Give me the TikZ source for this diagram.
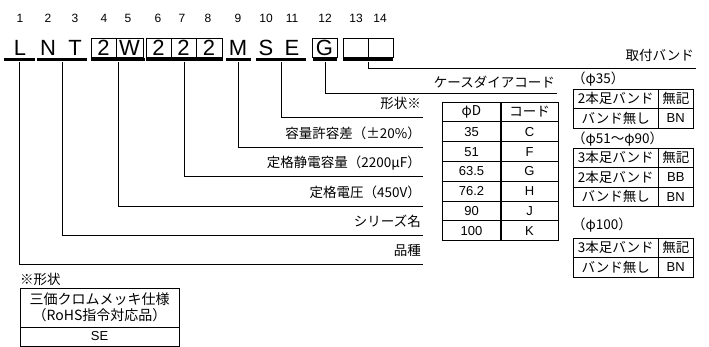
\documentclass[tikz,border=0pt]{standalone}
\usepackage{fontspec}
\setmainfont{Liberation Sans}
\newfontfamily\jpfont{Noto Sans CJK JP}

\begin{document}
\begin{tikzpicture}[
x=1pt, y=-1pt,
code_letter/.style={font=\fontsize{22}{22}\selectfont, inner sep=0pt, text height=16pt, text depth=0pt},
code_box/.style={code_letter, draw=black, line width=0.6pt, minimum width=25pt, minimum height=19pt},
digit/.style={font=\fontsize{12}{12}\selectfont, anchor=base, inner sep=0pt},
bar/.style={rectangle, fill=black, inner sep=0pt, minimum height=3pt},
label_text/.style={font=\jpfont\fontsize{13.5}{13.5}\selectfont, anchor=south east, text depth=0pt, inner xsep=2pt, inner ysep=8.5pt},
leader/.style={line width=0.8pt},
cell/.style={rectangle, draw=black, line width=0.8pt, inner sep=0pt, minimum height=19.8pt, font=\jpfont\fontsize{13.5}{13.5}\selectfont},
latin_cell/.style={cell, font=\fontsize{13}{13}\selectfont},
band_cell/.style={cell, minimum height=19.5pt},
band_head/.style={font=\jpfont\fontsize{13.5}{13.5}\selectfont, anchor=west, inner sep=0pt}
]
\useasboundingbox (0,0) rectangle (709,347);


\node[digit](n1) at (20,23) {1};
\node[digit](n2) at (48,23) {2};
\node[digit](n3) at (75,23) {3};
\node[digit](n4) at (104,23) {4};
\node[digit](n5) at (128,23) {5};
\node[digit](n6) at (158,23) {6};
\node[digit](n7) at (182,23) {7};
\node[digit](n8) at (208,23) {8};
\node[digit](n9) at (238,23) {9};
\node[digit](n10) at (266,23) {10};
\node[digit](n11) at (292,23) {11};
\node[digit](n12) at (325,23) {12};
\node[digit](n13) at (356,23) {13};
\node[digit](n14) at (380,23) {14};

\node[code_letter](c1) at (20,47.5) {L};
\node[code_letter](c2) at (48,47.5) {N};
\node[code_letter](c3) at (75,47.5) {T};
\node[code_box](c4) at (103.5,47.5) {2};
\node[code_box, minimum width=27pt](c5) at (129.5,47.5) {W};
\node[code_box](c6) at (158.5,47.5) {2};
\node[code_box](c7) at (183.5,47.5) {2};
\node[code_box, minimum width=26pt](c8) at (209,47.5) {2};
\node[code_letter](c9) at (238,47.5) {M};
\node[code_letter](c10) at (266,47.5) {S};
\node[code_letter](c11) at (292,47.5) {E};
\node[code_box](c12) at (324.5,47.5) {G};
\node[code_box](c13) at (355.5,47.5) {};
\node[code_box](c14) at (380.5,47.5) {};

\node[bar, minimum width=31pt](bar_kind) at (19.5,60) {};
\node[bar, minimum width=50pt](bar_series) at (62,60) {};
\node[bar, minimum width=54pt](bar_volt) at (118,60) {};
\node[bar, minimum width=77pt](bar_cap) at (184.5,60) {};
\node[bar, minimum width=25pt](bar_tol) at (238.5,60) {};
\node[bar, minimum width=50pt](bar_shape) at (281,60) {};
\node[bar, minimum width=24pt](bar_case) at (325,60) {};
\node[bar, minimum width=50pt](bar_band) at (368,60) {};


\node[label_text, inner ysep=7pt](band_label) at (696,68) {取付バンド};
\node[label_text, inner ysep=5pt](case_label) at (557,93) {ケースダイアコード};
\node[label_text](shape_label) at (423,117) {形状※};
\node[label_text](tol_label) at (423,147) {容量許容差（±20\%）};
\node[label_text](cap_label) at (423,176) {定格静電容量（2200μF）};
\node[label_text](volt_label) at (423,206) {定格電圧（450V）};
\node[label_text](series_label) at (423,235) {シリーズ名};
\node[label_text](kind_label) at (423,264) {品種};

\draw[leader](bar_band.south) |- (band_label.south east);
\draw[leader](bar_case.south) |- (case_label.south east);
\draw[leader](bar_shape.south) |- (shape_label.south east);
\draw[leader](bar_tol.south) |- (tol_label.south east);
\draw[leader](bar_cap.south) |- (cap_label.south east);
\draw[leader](bar_volt.south) |- (volt_label.south east);
\draw[leader](bar_series.south) |- (series_label.south east);
\draw[leader](bar_kind.south) |- (kind_label.south east);


\node[cell, minimum width=59pt](dia_head) at (471.5,112) {φD};
\node[cell, minimum width=58pt](code_head) at (529.5,112) {コード};
\node[latin_cell, minimum width=59pt](dia_35) at (471.5,131.8) {35};
\node[latin_cell, minimum width=58pt](code_35) at (529.5,131.8) {C};
\node[latin_cell, minimum width=59pt](dia_51) at (471.5,151.6) {51};
\node[latin_cell, minimum width=58pt](code_51) at (529.5,151.6) {F};
\node[latin_cell, minimum width=59pt](dia_63) at (471.5,171.4) {63.5};
\node[latin_cell, minimum width=58pt](code_63) at (529.5,171.4) {G};
\node[latin_cell, minimum width=59pt](dia_76) at (471.5,191.2) {76.2};
\node[latin_cell, minimum width=58pt](code_76) at (529.5,191.2) {H};
\node[latin_cell, minimum width=59pt](dia_90) at (471.5,211) {90};
\node[latin_cell, minimum width=58pt](code_90) at (529.5,211) {J};
\node[latin_cell, minimum width=59pt](dia_100) at (471.5,230.8) {100};
\node[latin_cell, minimum width=58pt](code_100) at (529.5,230.8) {K};


\node[band_head](head_35) at (572,79) {（φ35）};
\node[band_cell, minimum width=85.5pt](b35_two) at (615.75,98.75) {2本足バンド};
\node[band_cell, minimum width=34.5pt](b35_two_code) at (675.75,98.75) {無記};
\node[band_cell, minimum width=85.5pt](b35_none) at (615.75,118.25) {バンド無し};
\node[band_cell, minimum width=34.5pt, font=\fontsize{13}{13}\selectfont](b35_none_code) at (675.75,118.25) {BN};

\node[band_head](head_51) at (572,139) {（φ51〜φ90）};
\node[band_cell, minimum width=85.5pt](b51_three) at (615.75,157.75) {3本足バンド};
\node[band_cell, minimum width=34.5pt](b51_three_code) at (675.75,157.75) {無記};
\node[band_cell, minimum width=85.5pt](b51_two) at (615.75,177.25) {2本足バンド};
\node[band_cell, minimum width=34.5pt, font=\fontsize{13}{13}\selectfont](b51_two_code) at (675.75,177.25) {BB};
\node[band_cell, minimum width=85.5pt](b51_none) at (615.75,196.75) {バンド無し};
\node[band_cell, minimum width=34.5pt, font=\fontsize{13}{13}\selectfont](b51_none_code) at (675.75,196.75) {BN};

\node[band_head](head_100) at (572,225) {（φ100）};
\node[band_cell, minimum width=85.5pt](b100_three) at (615.75,247.75) {3本足バンド};
\node[band_cell, minimum width=34.5pt](b100_three_code) at (675.75,247.75) {無記};
\node[band_cell, minimum width=85.5pt](b100_none) at (615.75,267.25) {バンド無し};
\node[band_cell, minimum width=34.5pt, font=\fontsize{13}{13}\selectfont](b100_none_code) at (675.75,267.25) {BN};


\node[band_head](shape_note) at (20,279) {※形状};
\node[cell, minimum width=159pt, minimum height=39pt, align=center, font=\jpfont\fontsize{14}{15.5}\selectfont](shape_spec) at (99.5,307.5) {三価クロムメッキ仕様\\（RoHS指令対応品）};
\node[cell, minimum width=159pt, minimum height=19pt, font=\fontsize{13}{13}\selectfont](shape_code) at (99.5,336.5) {SE};

\end{tikzpicture}
\end{document}
